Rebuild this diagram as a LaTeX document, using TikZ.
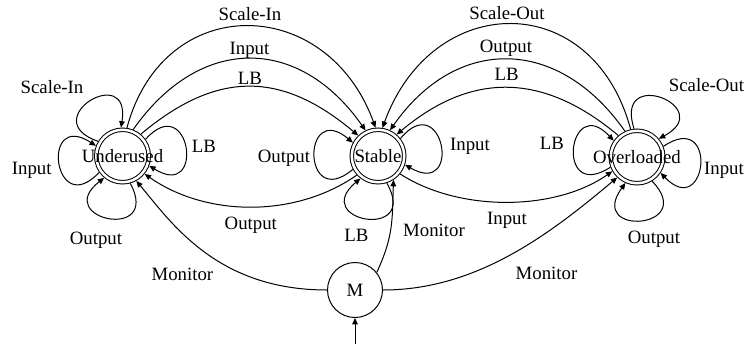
\documentclass[tikz,border=0pt]{standalone}
\usepackage{fontspec}
\setmainfont{Liberation Serif}
\usetikzlibrary{arrows.meta}
\begin{document}
\begin{tikzpicture}[x=0.5pt,y=0.5pt,line width=0.5pt,
  >={Triangle[length=3.2pt,width=2.8pt]},
  state/.style={circle,draw,double,double distance=1.25pt,minimum size=26.25pt,inner sep=0pt,outer sep=1.125pt,text height=6.5pt,text depth=0pt},
  mon/.style={circle,draw,minimum size=27.5pt,inner sep=0pt,text height=6.5pt,text depth=0pt},
  lbl/.style={inner sep=0pt,text height=6.5pt,text depth=0pt},
  arc/.style={->},
  selfloop/.style={->,looseness=6.4},
  font=\fontsize{9.4}{11}\selectfont]
\useasboundingbox (0,0) rectangle (744,345);

% states
\node[state] (u) at (122.5,189) {\makebox[0pt]{Underused}};
\node[state] (s) at (378,189) {\makebox[0pt]{Stable}};
\node[state] (o) at (637,188) {\makebox[0pt]{Overloaded}};
\node[mon] (m) at (355,55) {M};
\coordinate (mfeed) at (355,1);

% self loops: Underused
\draw[selfloop] (u.149) to[out=161,in=81] (u.93);
\draw[selfloop] (u.215) to[out=227,in=147] (u.159);
\draw[selfloop] (u.286) to[out=298,in=218] (u.230);
\draw[selfloop] (u.36) to[out=48,in=-32] (u.-20);
% self loops: Stable
\draw[selfloop] (s.208) to[out=220,in=140] (s.152);
\draw[selfloop] (s.38) to[out=50,in=-30] (s.-18);
\draw[selfloop] (s.288) to[out=300,in=220] (s.232);
% self loops: Overloaded
\draw[selfloop] (o.201) to[out=213,in=133] (o.145);
\draw[selfloop] (o.96) to[out=108,in=28] (o.40);
\draw[selfloop] (o.22) to[out=34,in=-46] (o.-34);
\draw[selfloop] (o.302) to[out=314,in=234] (o.246);

% upper arcs Underused -> Stable
\draw[arc] (u.81) .. controls +(75:142) and +(110:142) .. (s.95);
\draw[arc] (u.68) .. controls +(55:116) and +(125:116) .. (s.116);
\draw[arc] (u.50) .. controls +(40:100) and +(140:100) .. (s.134);
% upper arcs Overloaded -> Stable
\draw[arc] (o.103) .. controls +(105:146) and +(70:146) .. (s.81);
\draw[arc] (o.115) .. controls +(125:116) and +(55:116) .. (s.65);
\draw[arc] (o.131) .. controls +(140:98) and +(40:98) .. (s.49);
% lower arcs
\draw[arc] (s.222) .. controls +(215:75) and +(-35:75) .. (u.-39);
\draw[arc] (s.-39) .. controls +(-33:70) and +(215:70) .. (o.210);
% monitor arcs
\draw[arc] (m.180) .. controls +(180:110) and +(-50:55) .. (u.-61);
\draw[arc] (m.39) .. controls +(65:40) and +(-92:40) .. (s.-57);
\draw[arc] (m.0) .. controls +(0:95) and +(220:85) .. (o.226);
\draw[arc] (mfeed) -- (m);

% labels
\node[lbl] (l1) at (250,331) {Scale-In};
\node[lbl] (l2) at (249.5,297) {Input};
\node[lbl] (l3) at (250,267) {LB};
\node[lbl] (l4) at (507,332) {Scale-Out};
\node[lbl] (l5) at (506,299) {Output};
\node[lbl] (l6) at (506.7,271) {LB};
\node[lbl] (l7) at (52,258) {Scale-In};
\node[lbl] (l8) at (31.7,177) {Input};
\node[lbl] (l9) at (96,107) {Output};
\node[lbl] (l10) at (204,199) {LB};
\node[lbl] (l11) at (284,189) {Output};
\node[lbl] (l12) at (470,201) {Input};
\node[lbl] (l13) at (356.5,110) {LB};
\node[lbl] (l14) at (434,115) {Monitor};
\node[lbl] (l15) at (250.8,122) {Output};
\node[lbl] (l16) at (507,127) {Input};
\node[lbl] (l17) at (182.4,71) {Monitor};
\node[lbl] (l18) at (546.5,72.5) {Monitor};
\node[lbl] (l19) at (552,202) {LB};
\node[lbl] (l20) at (706.5,260) {Scale-Out};
\node[lbl] (l21) at (724,177) {Input};
\node[lbl] (l22) at (654,108) {Output};
\end{tikzpicture}
\end{document}
